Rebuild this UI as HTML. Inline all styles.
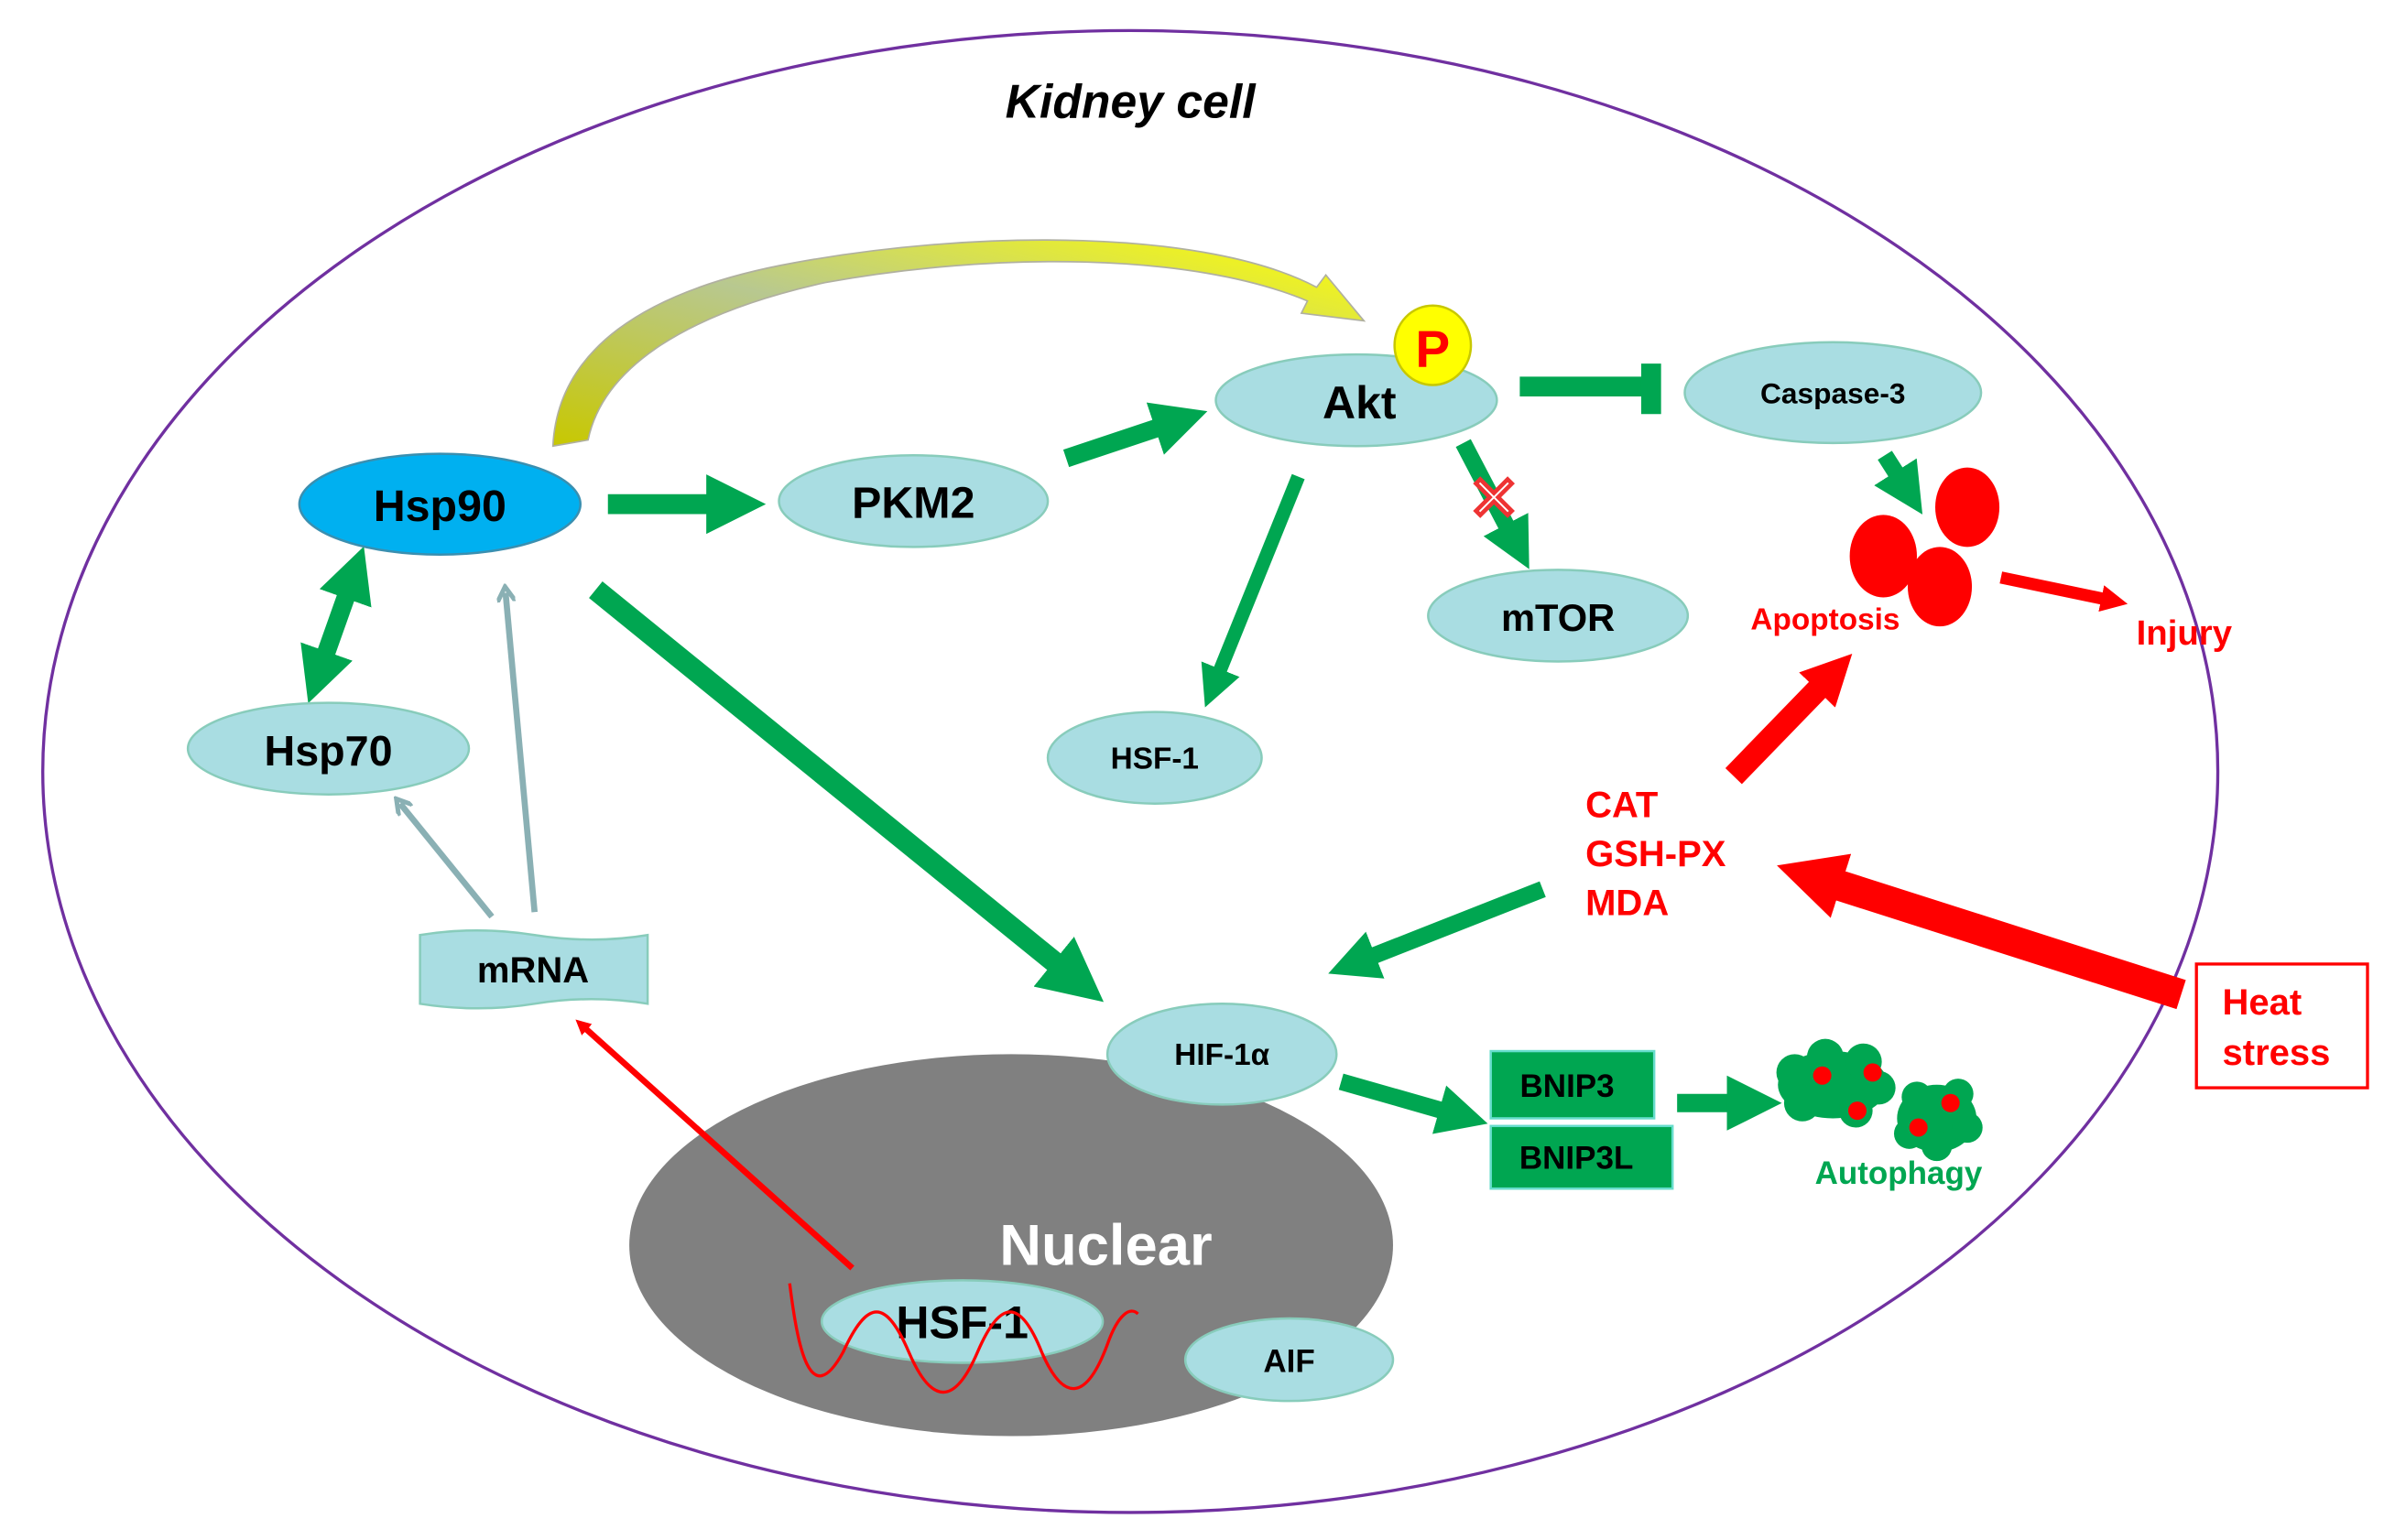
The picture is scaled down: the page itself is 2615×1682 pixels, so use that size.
<!DOCTYPE html>
<html><head><meta charset="utf-8"><style>
html,body{margin:0;padding:0;background:#fff;width:2615px;height:1682px;overflow:hidden}
svg{display:block}
text{font-family:"Liberation Sans",Arial,sans-serif;font-weight:bold}
</style></head><body>
<svg width="2615" height="1682" viewBox="0 0 1568 1008" preserveAspectRatio="none" xmlns="http://www.w3.org/2000/svg">
<defs>
<marker id="g" markerWidth="3" markerHeight="3" refX="1.2" refY="1.5" orient="auto" markerUnits="strokeWidth"><path d="M0,0 L3,1.5 L0,3 z" fill="#00a651"/></marker>
<marker id="g2" markerWidth="3" markerHeight="3" refX="1.2" refY="1.5" orient="auto-start-reverse" markerUnits="strokeWidth"><path d="M0,0 L3,1.5 L0,3 z" fill="#00a651"/></marker>
<marker id="r" markerWidth="2.2" markerHeight="2.2" refX="0.8" refY="1.1" orient="auto" markerUnits="strokeWidth"><path d="M0,0 L2.2,1.1 L0,2.2 z" fill="#ff0000"/></marker>
<marker id="rt" markerWidth="10" markerHeight="10" refX="3" refY="5" orient="auto" markerUnits="userSpaceOnUse"><path d="M0,0 L10,5 L0,10 z" fill="#ff0000"/></marker>
<marker id="gr" markerWidth="12" markerHeight="12" refX="6" refY="6" orient="auto" markerUnits="userSpaceOnUse"><path d="M0,0 L10,6 L0,12" fill="none" stroke="#8ab0b4" stroke-width="3"/></marker>
<linearGradient id="yg" x1="0" y1="1" x2="1" y2="0"><stop offset="0" stop-color="#c8c800"/><stop offset="0.5" stop-color="#b8c890"/><stop offset="1" stop-color="#ffff00"/></linearGradient>
</defs>
<ellipse cx="740" cy="505" rx="712" ry="485" fill="none" stroke="#7030a0" stroke-width="2"/>
<text x="740" y="77" font-size="31" font-style="italic" text-anchor="middle">Kidney cell</text>

<!-- yellow curved arrow -->
<path d="M362,292 C365,230 420,190 520,172 C640,150 790,150 862,188 L868,180 L893,210 L852,205 L856,197 C780,165 650,165 540,185 C450,205 395,240 385,288 z" fill="url(#yg)" stroke="#b0b0a0" stroke-width="1"/>

<!-- nucleus -->
<ellipse cx="662" cy="815" rx="250" ry="125" fill="#808080"/>
<text x="724" y="828" font-size="38" fill="#fff" text-anchor="middle">Nuclear</text>
<ellipse cx="630" cy="865" rx="92" ry="27" fill="#a9dde2" stroke="#8cb" stroke-width="1.5"/>
<text x="630" y="876" font-size="30" text-anchor="middle">HSF-1</text>
<path d="M517,840 C522,880 530,925 552,885 C568,850 580,850 595,885 C610,920 625,920 640,885 C655,850 668,850 682,885 C697,920 712,915 725,880 C732,860 740,855 745,860" fill="none" stroke="#f00" stroke-width="2"/>
<ellipse cx="844" cy="890" rx="68" ry="27" fill="#a9dde2" stroke="#8cb" stroke-width="1.5"/>
<text x="844" y="898" font-size="21" text-anchor="middle">AIF</text>

<!-- green arrows -->
<g stroke="#00a651" fill="none">
<line x1="398" y1="330" x2="478" y2="330" stroke-width="13" marker-end="url(#g)"/>
<line x1="698" y1="300" x2="770" y2="276" stroke-width="12" marker-end="url(#g)"/>
<line x1="995" y1="253" x2="1075" y2="253" stroke-width="13"/>
<line x1="1081" y1="238" x2="1081" y2="271" stroke-width="13"/>
<line x1="958" y1="290" x2="992" y2="355" stroke-width="11" marker-end="url(#g)"/>
<line x1="850" y1="312" x2="795" y2="448" stroke-width="9" marker-end="url(#g)"/>
<line x1="1234" y1="298" x2="1248" y2="320" stroke-width="11" marker-end="url(#g)"/>
<line x1="390" y1="386" x2="703" y2="640" stroke-width="14" marker-end="url(#g)"/>
<line x1="1010" y1="582" x2="888" y2="630" stroke-width="11" marker-end="url(#g)"/>
<line x1="878" y1="708" x2="955" y2="730" stroke-width="11" marker-end="url(#g)"/>
<line x1="1098" y1="722" x2="1145" y2="722" stroke-width="12" marker-end="url(#g)"/>
<line x1="231" y1="378" x2="209" y2="440" stroke-width="12" marker-start="url(#g2)" marker-end="url(#g2)"/>
</g>
<text x="978" y="340" font-size="40" fill="#fff" stroke="#e33" stroke-width="1.5" text-anchor="middle" font-weight="normal">✕</text>

<line x1="322" y1="600" x2="262" y2="526" stroke="#8ab0b4" stroke-width="4" marker-end="url(#gr)"/>
<line x1="350" y1="597" x2="331" y2="388" stroke="#8ab0b4" stroke-width="4" marker-end="url(#gr)"/>
<line x1="558" y1="830" x2="382" y2="672" stroke="#f00" stroke-width="4" marker-end="url(#rt)"/>

<line x1="1135" y1="508" x2="1198" y2="443" stroke="#f00" stroke-width="15" marker-end="url(#r)"/>
<line x1="1310" y1="378" x2="1382" y2="393" stroke="#f00" stroke-width="8" marker-end="url(#r)"/>
<line x1="1428" y1="651" x2="1190" y2="575" stroke="#f00" stroke-width="20" marker-end="url(#r)"/>

<ellipse cx="288" cy="330" rx="92" ry="33" fill="#00b0f0" stroke="#3a8fb0" stroke-width="1.5"/>
<text x="288" y="341" font-size="29" text-anchor="middle">Hsp90</text>
<ellipse cx="598" cy="328" rx="88" ry="30" fill="#a9dde2" stroke="#8cb" stroke-width="1.5"/>
<text x="598" y="339" font-size="29" text-anchor="middle">PKM2</text>
<ellipse cx="888" cy="262" rx="92" ry="30" fill="#a9dde2" stroke="#8cb" stroke-width="1.5"/>
<text x="890" y="274" font-size="30" text-anchor="middle">Akt</text>
<ellipse cx="938" cy="226" rx="25" ry="26" fill="#ffff00" stroke="#c8c800" stroke-width="1.5"/>
<text x="938" y="240" font-size="34" fill="#f00" text-anchor="middle">P</text>
<ellipse cx="1200" cy="257" rx="97" ry="33" fill="#a9dde2" stroke="#8cb" stroke-width="1.5"/>
<text x="1200" y="264" font-size="19" text-anchor="middle">Caspase-3</text>
<ellipse cx="1020" cy="403" rx="85" ry="30" fill="#a9dde2" stroke="#8cb" stroke-width="1.5"/>
<text x="1020" y="413" font-size="25" text-anchor="middle">mTOR</text>
<ellipse cx="756" cy="496" rx="70" ry="30" fill="#a9dde2" stroke="#8cb" stroke-width="1.5"/>
<text x="756" y="503" font-size="20" text-anchor="middle">HSF-1</text>
<ellipse cx="215" cy="490" rx="92" ry="30" fill="#a9dde2" stroke="#8cb" stroke-width="1.5"/>
<text x="215" y="501" font-size="28" text-anchor="middle">Hsp70</text>
<path d="M275,612 Q312,606 350,612 T424,612 L424,657 Q387,651 350,657 T275,657 z" fill="#a9dde2" stroke="#8cb" stroke-width="1.5"/>
<text x="349" y="643" font-size="24" text-anchor="middle">mRNA</text>
<ellipse cx="800" cy="690" rx="75" ry="33" fill="#a9dde2" stroke="#8cb" stroke-width="1.5"/>
<text x="800" y="697" font-size="20" text-anchor="middle">HIF-1α</text>
<rect x="976" y="688" width="107" height="44" fill="#00a651" stroke="#6dc" stroke-width="1.5"/>
<text x="1026" y="718" font-size="21" font-weight="normal" text-anchor="middle">BNIP3</text>
<rect x="976" y="737" width="119" height="41" fill="#00a651" stroke="#6dc" stroke-width="1.5"/>
<text x="1032" y="765" font-size="21" font-weight="normal" text-anchor="middle">BNIP3L</text>

<g fill="#00a651">
<ellipse cx="1200" cy="710" rx="36" ry="22"/><circle cx="1175" cy="702" r="12"/><circle cx="1195" cy="692" r="12"/><circle cx="1220" cy="695" r="12"/><circle cx="1230" cy="712" r="11"/><circle cx="1215" cy="727" r="11"/><circle cx="1180" cy="722" r="12"/>
<ellipse cx="1268" cy="732" rx="26" ry="22"/><circle cx="1255" cy="718" r="10"/><circle cx="1282" cy="716" r="10"/><circle cx="1288" cy="738" r="10"/><circle cx="1268" cy="750" r="10"/><circle cx="1250" cy="742" r="10"/>
</g>
<g fill="#f00"><circle cx="1193" cy="704" r="6"/><circle cx="1226" cy="702" r="6"/><circle cx="1216" cy="727" r="6"/><circle cx="1277" cy="722" r="6"/><circle cx="1256" cy="738" r="6"/></g>
<text x="1243" y="775" font-size="21" fill="#00a651" text-anchor="middle">Autophagy</text>

<g fill="#f00"><ellipse cx="1233" cy="364" rx="22" ry="27"/><ellipse cx="1288" cy="332" rx="21" ry="26"/><ellipse cx="1270" cy="384" rx="21" ry="26"/></g>
<text x="1195" y="412" font-size="20" fill="#f00" text-anchor="middle">Apoptosis</text>
<text x="1430" y="422" font-size="23" fill="#f00" text-anchor="middle">Injury</text>

<text x="1038" y="535" font-size="24" fill="#f00">CAT</text>
<text x="1038" y="567" font-size="24" fill="#f00">GSH-PX</text>
<text x="1038" y="599" font-size="24" fill="#f00">MDA</text>

<rect x="1438" y="631" width="112" height="81" fill="#fff" stroke="#f00" stroke-width="2"/>
<text x="1455" y="664" font-size="24" fill="#f00">Heat</text>
<text x="1455" y="697" font-size="24" fill="#f00">stress</text>
</svg>
</body></html>
